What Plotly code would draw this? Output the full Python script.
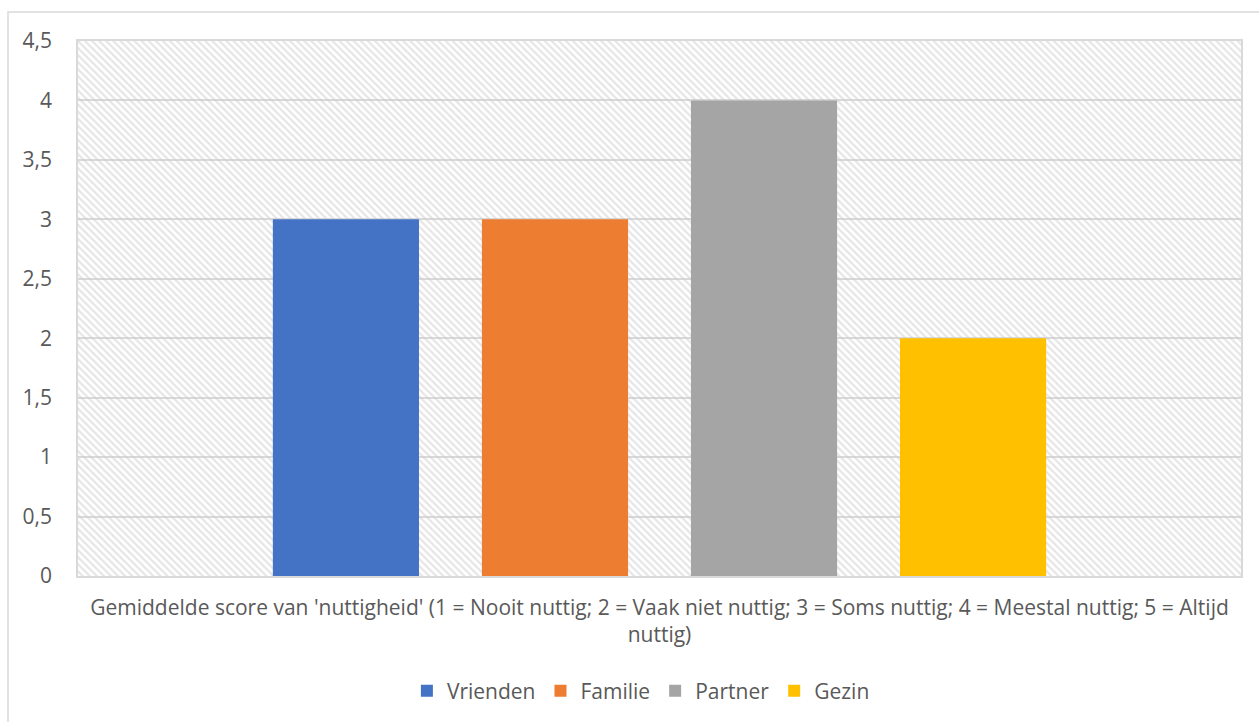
import plotly.graph_objects as go

category = ["Gemiddelde score van 'nuttigheid' (1 = Nooit nuttig; 2 = Vaak niet nuttig; 3 = Soms nuttig; 4 = Meestal nuttig; 5 = Altijd<br>nuttig)"]
series_names = ["Vrienden", "Familie", "Partner", "Gezin"]
series_values = [3, 3, 4, 2]
colors = ["#4472C4", "#ED7D31", "#A5A5A5", "#FFC000"]
y_ticks = [0, 0.5, 1, 1.5, 2, 2.5, 3, 3.5, 4, 4.5]

FONT = "Open Sans"
TXT = "#595959"
FS = 21

fig = go.Figure()

# hatched plot-area background (on base axis, below the bars)
fig.add_trace(go.Bar(
    x=[0.5], y=[max(y_ticks)], width=[1], xaxis="x", yaxis="y",
    marker=dict(color="rgba(0,0,0,0)", line=dict(width=0),
                pattern=dict(shape="\\", fgcolor="#cccccc", bgcolor="rgba(0,0,0,0)",
                             size=5, solidity=0.45, fillmode="overlay")),
    showlegend=False, hoverinfo="skip",
))

for name, val, col in zip(series_names, series_values, colors):
    fig.add_trace(go.Bar(
        x=category, y=[val], name=name, marker=dict(color=col, line=dict(width=0)),
        xaxis="x2", yaxis="y",
    ))

fig.update_layout(
    width=1259, height=722,
    margin=dict(l=78, r=18, t=41, b=145),
    paper_bgcolor="white", plot_bgcolor="white",
    separators=",.",
    barmode="group", bargap=0.281, bargroupgap=0.301,
    font=dict(family=FONT, size=FS, color=TXT),
    xaxis=dict(range=[0, 1], visible=False, fixedrange=True),
    xaxis2=dict(overlaying="x", showgrid=False, zeroline=False,
                showline=True, mirror=True, linecolor="#d9d9d9", linewidth=1.5,
                ticks="", tickfont=dict(family=FONT, size=FS, color=TXT),
                ticklabelstandoff=12),
    yaxis=dict(range=[0, 4.5], tickvals=y_ticks, showgrid=True, gridcolor="#d9d9d9",
               gridwidth=1.5, zeroline=False, showline=True, mirror=True,
               linecolor="#d9d9d9", linewidth=1.5, ticks="",
               ticklabelstandoff=20, tickfont=dict(family=FONT, size=FS, color=TXT)),
    legend=dict(orientation="h", x=0.484, xanchor="center", y=-0.2127, yanchor="middle",
                font=dict(family=FONT, size=FS, color=TXT), itemwidth=30,
                traceorder="normal"),
    shapes=[dict(type="rect", xref="paper", yref="paper",
                 x0=(8 - 78) / 1163, x1=(1270 - 78) / 1163,
                 y0=-0.4, y1=(577 - 12) / 536,
                 line=dict(color="#d9d9d9", width=1.5), fillcolor="rgba(0,0,0,0)", layer="below")],
)

fig.write_html("out.html")
